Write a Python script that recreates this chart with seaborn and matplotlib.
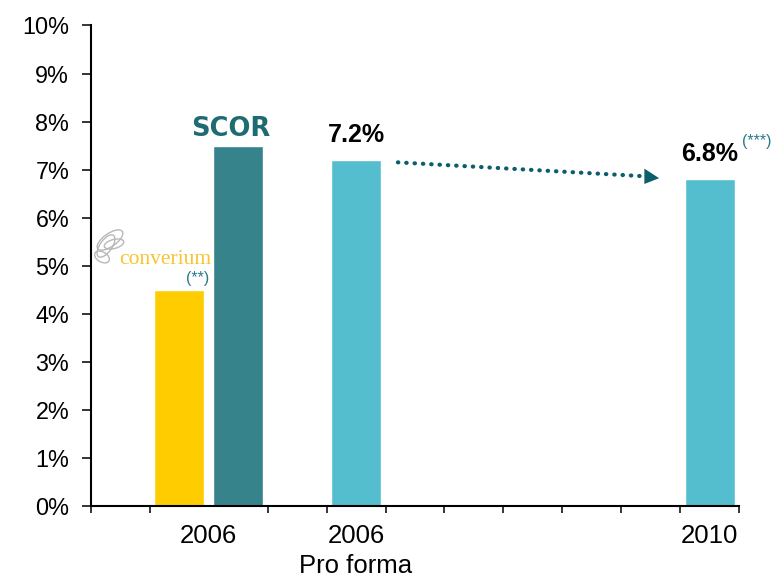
import matplotlib
matplotlib.use("Agg")
import matplotlib.pyplot as plt
from matplotlib.patches import Ellipse, Polygon
import seaborn as sns
import pandas as pd

# ---- data ----
bar_names = ["Converium", "SCOR", "Pro forma", "2010"]
bar_values = [4.5, 7.5, 7.2, 6.8]          # percent
bar_slots = [1, 2, 4, 10]                   # slot index on the 11-slot axis
bar_colors = ["#FFCC00", "#36838C", "#55BECE", "#55BECE"]
n_slots = 11
value_labels = {"Pro forma": "7.2%", "2010": "6.8%"}
xtick_labels = ["2006", "2006\nPro forma", "2010"]
ytick_values = list(range(0, 11))

sns.set_style("white")
plt.rcParams["font.family"] = ["Liberation Sans", "DejaVu Sans"]
plt.rcParams["text.color"] = "black"
plt.rcParams["xtick.color"] = "black"
plt.rcParams["ytick.color"] = "black"
plt.rcParams["axes.labelcolor"] = "black"

order = [f"_{i}" for i in range(n_slots)]
for name, s in zip(bar_names, bar_slots):
    order[s] = name
df = pd.DataFrame({"slot": bar_names, "value": bar_values})
palette = dict(zip(bar_names, bar_colors))

fig = plt.figure(figsize=(7.76, 5.82), dpi=100)
ax = fig.add_axes([90.7 / 776, 1 - 505.7 / 582, (739.3 - 90.7) / 776, (505.7 - 25.5) / 582])

sns.barplot(data=df, x="slot", y="value", hue="slot", order=order, palette=palette,
            width=0.85, legend=False, ax=ax, saturation=1)

ax.set_xlim(-0.5, n_slots - 0.5)
ax.set_ylim(0, 10)
ax.set_xlabel("")
ax.set_ylabel("")

# spines
for s in ["top", "right"]:
    ax.spines[s].set_visible(False)
for s in ["left", "bottom"]:
    ax.spines[s].set_color("black")
    ax.spines[s].set_linewidth(1.5)

# y ticks
ax.set_yticks(ytick_values)
ax.set_yticklabels([f"{v}%" for v in ytick_values])
ax.tick_params(axis="y", direction="out", length=6.5, width=1.1, pad=9,
               labelsize=16.8, color="black", labelcolor="black", left=True)

# x ticks: labels at group centres, boundary ticks as minor ticks
pos = {name: order.index(name) for name in bar_names}
xt = [(pos["Converium"] + pos["SCOR"]) / 2, pos["Pro forma"], pos["2010"]]
ax.set_xticks(xt)
ax.set_xticklabels(xtick_labels, linespacing=1.3)
ax.set_xticks([i - 0.5 for i in range(n_slots + 1)], minor=True)
ax.tick_params(axis="x", which="major", length=0, pad=13.5, labelsize=18.5,
               labelcolor="black")
ax.tick_params(axis="x", which="minor", direction="out", length=5, width=1.1,
               color="black", bottom=True)

# value labels
for name, lab in value_labels.items():
    v = bar_values[bar_names.index(name)]
    ax.text(pos[name], v + 0.38, lab, ha="center", va="baseline",
            fontsize=18, fontweight="bold", color="black")

teal_txt = "#2C7A88"
v2010 = bar_values[bar_names.index("2010")]
ax.text(pos["2010"] + 0.8, v2010 + 0.78, "(***)", ha="center", va="center",
        fontsize=11.5, color=teal_txt, clip_on=False)

# logos (as text)
vs = bar_values[bar_names.index("SCOR")]
ax.text(pos["SCOR"] - 0.12, vs + 0.34, "SCOR", ha="center", va="center",
        fontsize=18.5, fontweight="bold", color="#1E6B72",
        family="DejaVu Sans", clip_on=False)

vc = bar_values[bar_names.index("Converium")]
ax.text(pos["Converium"] - 0.24, vc + 0.53, "converium", ha="center", va="baseline",
        fontsize=15.5, color="#F8C531", family="Liberation Serif", clip_on=False)
ax.text(pos["Converium"] + 0.31, vc + 0.23, "(**)", ha="center", va="center",
        fontsize=11.5, color=teal_txt, clip_on=False)

# butterfly outline (decorative)
def px(x, y):
    return (x / 100, (582 - y) / 100)
for (cx, cy, w, h, a) in [(110, 240, 30, 13, 35), (106, 246, 26, 12, 55),
                          (102, 257, 16, 10, -30), (114, 244, 20, 9, 15)]:
    fig.add_artist(Ellipse(px(cx, cy), w / 100, h / 100, angle=a, fill=False,
                           edgecolor="#B8B8B8", lw=1.0, transform=fig.dpi_scale_trans))

# dotted arrow from pro-forma bar to 2010 bar
vp = bar_values[bar_names.index("Pro forma")]
arrow_col = "#0B5E6A"
x0, y0 = pos["Pro forma"] + 0.71, vp - 0.05
x1, y1 = pos["2010"] - 1.10, v2010 + 0.06
ax.plot([x0, x1], [y0, y1], color=arrow_col, lw=3.0,
        linestyle=(0, (0.1, 1.9)), dash_capstyle="round", solid_capstyle="round")
tipx, tipy = pos["2010"] - 0.86, v2010 + 0.02
ax.add_patch(Polygon([(x1 - 0.01, y1 + 0.16), (x1 - 0.01, y1 - 0.16), (tipx, tipy)],
                     closed=True, color=arrow_col, lw=0))

fig.savefig("out.png", dpi=100)
